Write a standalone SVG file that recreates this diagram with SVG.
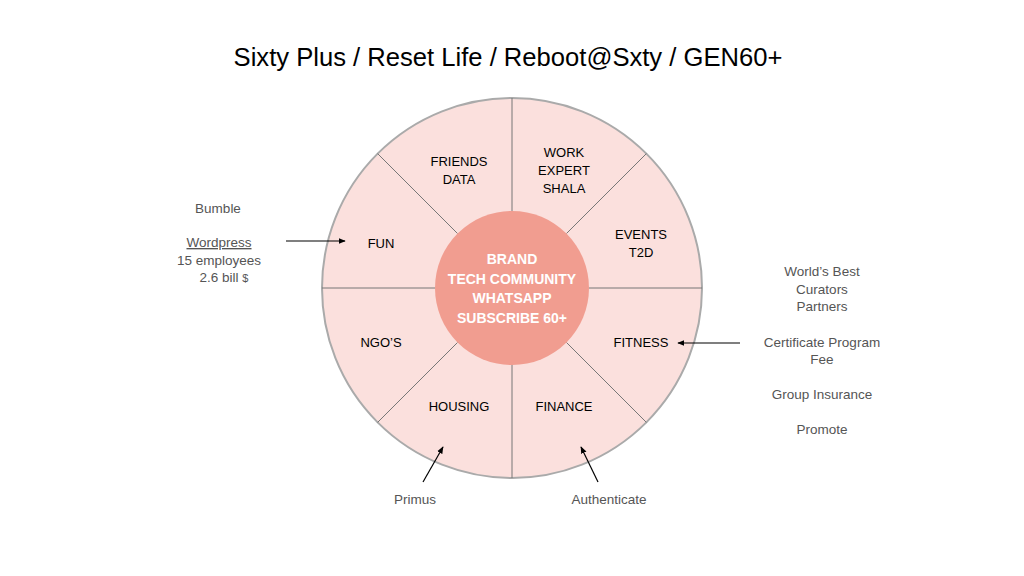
<svg xmlns="http://www.w3.org/2000/svg" width="1024" height="576" viewBox="0 0 1024 576">
<defs>
<style>
.t{font-family:"Helvetica","Liberation Sans",Arial,sans-serif;font-size:13px;fill:#000;text-anchor:middle}
.g{font-family:"Helvetica","Liberation Sans",Arial,sans-serif;font-size:13.5px;fill:#555;text-anchor:middle}
.w{font-family:"Helvetica","Liberation Sans",Arial,sans-serif;font-size:14px;font-weight:bold;fill:#fff;text-anchor:middle}
.sp{stroke:#777;stroke-width:1}
.ar{stroke:#000;stroke-width:1.2;fill:none;marker-end:url(#m)}
</style>
<marker id="m" viewBox="0 0 10 10" refX="9" refY="5" markerWidth="6" markerHeight="6" orient="auto"><path d="M0,1 L10,5 L0,9 z" fill="#000"/></marker>
</defs>
<rect width="1024" height="576" fill="#fff"/>
<text x="508" y="66" style="font-family:'Helvetica','Liberation Sans',Arial,sans-serif;font-size:25.6px;text-anchor:middle">Sixty Plus / Reset Life / Reboot@Sxty / GEN60+</text>
<g id="wheel">
<circle cx="512" cy="288" r="190" fill="#fbe0dd" stroke="#aaa" stroke-width="2"/>
<g id="spokes">
<line class="sp" x1="512" y1="98" x2="512" y2="211"/>
<line class="sp" x1="512" y1="365" x2="512" y2="478"/>
<line class="sp" x1="322" y1="288" x2="435" y2="288"/>
<line class="sp" x1="589" y1="288" x2="702" y2="288"/>
<line class="sp" x1="377.6" y1="153.6" x2="457.6" y2="233.6"/>
<line class="sp" x1="646.4" y1="153.6" x2="566.4" y2="233.6"/>
<line class="sp" x1="377.6" y1="422.4" x2="457.6" y2="342.4"/>
<line class="sp" x1="646.4" y1="422.4" x2="566.4" y2="342.4"/>
</g>
<g id="center"><circle cx="512" cy="288" r="77" fill="#f19d90"/>
<text class="w" x="512" y="264">BRAND</text>
<text class="w" x="512" y="284">TECH COMMUNITY</text>
<text class="w" x="512" y="303">WHATSAPP</text>
<text class="w" x="512" y="323">SUBSCRIBE 60+</text></g>
<g id="friends"><text class="t" x="459" y="166">FRIENDS</text><text class="t" x="459" y="184">DATA</text></g>
<g id="work"><text class="t" x="564" y="157">WORK</text><text class="t" x="564" y="175">EXPERT</text><text class="t" x="564" y="193">SHALA</text></g>
<g id="events"><text class="t" x="641" y="239">EVENTS</text><text class="t" x="641" y="257">T2D</text></g>
<g id="fun"><text class="t" x="381" y="248">FUN</text></g>
<g id="ngo"><text class="t" x="381" y="347">NGO’S</text></g>
<g id="fitness"><text class="t" x="641" y="347">FITNESS</text></g>
<g id="housing"><text class="t" x="459" y="411">HOUSING</text></g>
<g id="finance"><text class="t" x="564" y="411">FINANCE</text></g>
</g>
<g id="left-notes">
<text class="g" x="218" y="213">Bumble</text>
<text class="g" x="219" y="247" text-decoration="underline">Wordpress</text>
<text class="g" x="219" y="265">15 employees</text>
<text class="g" x="224" y="282">2.6 bill <tspan font-size="11">$</tspan></text>
</g>
<g id="right-notes">
<text class="g" x="822" y="276">World’s Best</text>
<text class="g" x="822" y="294">Curators</text>
<text class="g" x="822" y="311">Partners</text>
<text class="g" x="822" y="347">Certificate Program</text>
<text class="g" x="822" y="364">Fee</text>
<text class="g" x="822" y="399">Group Insurance</text>
<text class="g" x="822" y="434">Promote</text>
</g>
<text class="g" x="415" y="504">Primus</text>
<text class="g" x="609" y="504">Authenticate</text>
<g id="connectors">
<line class="ar" x1="286" y1="241" x2="345" y2="241"/>
<line class="ar" x1="740" y1="343" x2="678" y2="343"/>
<line class="ar" x1="423" y1="482" x2="443" y2="447"/>
<line class="ar" x1="598" y1="482" x2="581" y2="447"/>
</g>
</svg>
